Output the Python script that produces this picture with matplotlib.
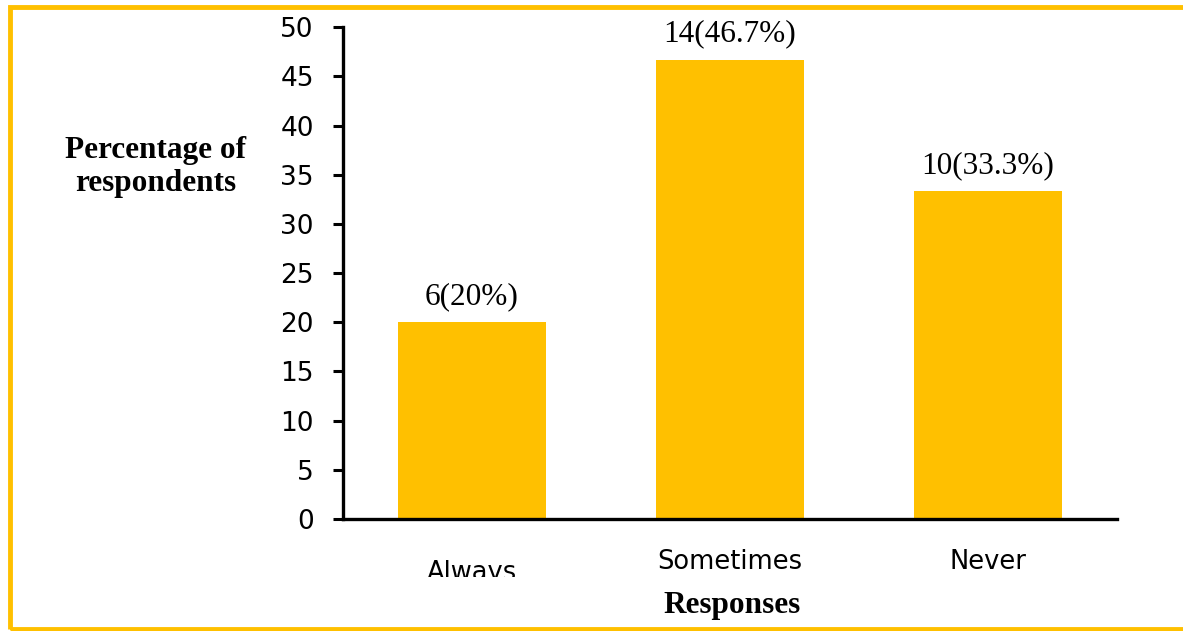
import matplotlib
matplotlib.use('Agg')
import matplotlib.pyplot as plt
from matplotlib.patches import Rectangle

# data
categories = ['Always', 'Sometimes', 'Never']
percentages = [20, 46.7, 33.3]
counts = [6, 14, 10]
bar_labels = ['6(20%)', '14(46.7%)', '10(33.3%)']

BAR_COLOR = '#FFC000'
SERIF = ['Liberation Serif', 'DejaVu Serif']

fig = plt.figure(figsize=(11.83, 6.31), dpi=100)
ax = fig.add_axes([0.29, 0.1775, 0.654, 0.7795])

x = list(range(len(categories)))
bars = ax.bar(x, percentages, width=0.574, color=BAR_COLOR)

ax.set_xlim(-0.5, 2.5)
ax.set_ylim(0, 50)
ax.set_yticks(range(0, 51, 5))
ax.tick_params(axis='y', direction='out', length=7, width=2.2, pad=14,
               labelsize=19)
ax.tick_params(axis='x', length=0, labelbottom=False)
for lbl in ax.get_yticklabels():
    lbl.set_family('DejaVu Sans')

for side in ['top', 'right']:
    ax.spines[side].set_visible(False)
for side in ['left', 'bottom']:
    ax.spines[side].set_linewidth(2.4)

# category names, "Always" sits lower and is cut off like in the source
clip = Rectangle((0, 54), 1183, 631, transform=None)
offsets = [-54, -43, -43]
for xi, name, off in zip(x, categories, offsets):
    t = ax.annotate(name, (xi, 0), xytext=(0, off / 1.389),
                    textcoords='offset points', ha='center', va='center',
                    fontsize=18.5, family='DejaVu Sans', annotation_clip=False)
    if name == 'Always':
        t.set_clip_path(clip)
        t.set_clip_on(True)

# value labels over the bars
for b, lab in zip(bars, bar_labels):
    ax.annotate(lab, (b.get_x() + b.get_width() / 2, b.get_height()),
                xytext=(0, 8), textcoords='offset points',
                ha='center', va='bottom', fontsize=22.5, family=SERIF)

fig.text(156 / 1183, 1 - 167 / 631, 'Percentage of\nrespondents',
         ha='center', va='center', fontsize=22.5, fontweight='bold',
         family=SERIF, linespacing=1.22)
fig.text(732 / 1183, 1 - 605 / 631, 'Responses', ha='center', va='center',
         fontsize=22.5, fontweight='bold', family=SERIF)

# yellow frame, right edge runs off the picture
frame = Rectangle((10 / 1183, 2 / 631), 1.2, 622 / 631,
                  transform=fig.transFigure, fill=False,
                  edgecolor=BAR_COLOR, linewidth=3.5)
fig.patches.append(frame)

fig.savefig('out.png', dpi=100)
